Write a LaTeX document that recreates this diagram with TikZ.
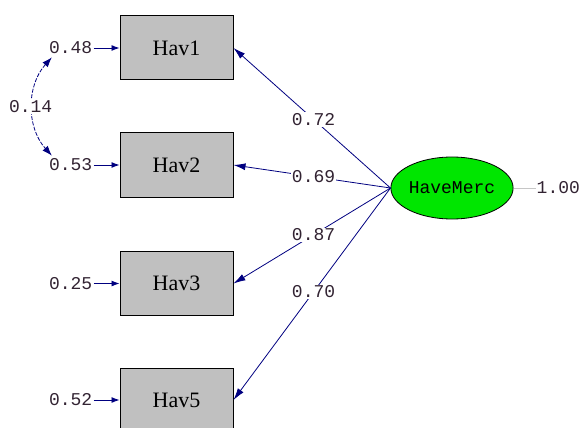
\documentclass[tikz,border=0pt]{standalone}
\usepackage{fontspec}
\setmainfont{Liberation Serif}
\setmonofont{Liberation Mono}
\usetikzlibrary{shapes,positioning,arrows.meta}
\definecolor{pathblue}{RGB}{0,0,128}
\definecolor{boxgray}{RGB}{192,192,192}
\definecolor{latgreen}{RGB}{0,230,0}
\definecolor{numtxt}{RGB}{50,35,50}

\begin{document}
\begin{tikzpicture}
  [x=1pt,y=-1pt,
   obsN/.style={rectangle,draw,fill=boxgray,line width=1pt,minimum width=113pt,minimum height=64pt,font=\fontsize{22}{22}\selectfont},
   latN/.style={ellipse,draw,fill=latgreen,line width=0.8pt,minimum width=112pt,minimum height=62pt,inner sep=0pt,font=\ttfamily\fontsize{18}{18}\selectfont},
   errN/.style={inner sep=1pt,text=numtxt,font=\ttfamily\fontsize{18}{18}\selectfont},
   lbl/.style={fill=white,inner sep=1pt,text=numtxt,font=\ttfamily\fontsize{18}{18}\selectfont},
   load/.style={pathblue,line width=0.8pt,-{Latex[length=12pt,width=7pt]}},
   errA/.style={pathblue,line width=0.9pt,-{Latex[length=8pt,width=6pt]}},
   node distance=26pt]

  \useasboundingbox (0,0) rectangle (582,428);

  \node[obsN] (hav1) at (176.5,48) {Hav1};
  \node[obsN] (hav2) at (176.5,165) {Hav2};
  \node[obsN] (hav3) at (176.5,283.5) {Hav3};
  \node[obsN] (hav5) at (176.5,400) {Hav5};

  \node[latN] (merc) at (452,188) {HaveMerc};
  \node[errN] (var) [right=22pt of merc] {1.00};

  \node[errN] (e1) [left=of hav1] {0.48};
  \node[errN] (e2) [left=of hav2] {0.53};
  \node[errN] (e3) [left=of hav3] {0.25};
  \node[errN] (e5) [left=of hav5] {0.52};

  % loadings
  \draw[load] (merc.west) -- node[lbl,pos=0.49] {0.72} (hav1.east);
  \draw[load] (merc.west) -- node[lbl,pos=0.49] {0.69} (hav2.east);
  \draw[load] (merc.west) -- node[lbl,pos=0.49] {0.87} (hav3.east);
  \draw[load] (merc.west) -- node[lbl,pos=0.49] {0.70} (hav5.east);

  % error terms
  \draw[errA] (e1) -- (hav1);
  \draw[errA] (e2) -- (hav2);
  \draw[errA] (e3) -- (hav3);
  \draw[errA] (e5) -- (hav5);

  \draw[gray!45,line width=0.8pt] (merc.east) -- (var);

  % covariance
  \draw[pathblue,line width=0.8pt,dash pattern=on 4pt off 1.5pt,{Latex[length=10pt,width=7pt]}-{Latex[length=10pt,width=7pt]}]
    ([xshift=4pt,yshift=-2pt]e1.south west) to[bend right=42] node[lbl,xshift=-2pt] {0.14} ([xshift=4pt,yshift=2pt]e2.north west);

\end{tikzpicture}
\end{document}
